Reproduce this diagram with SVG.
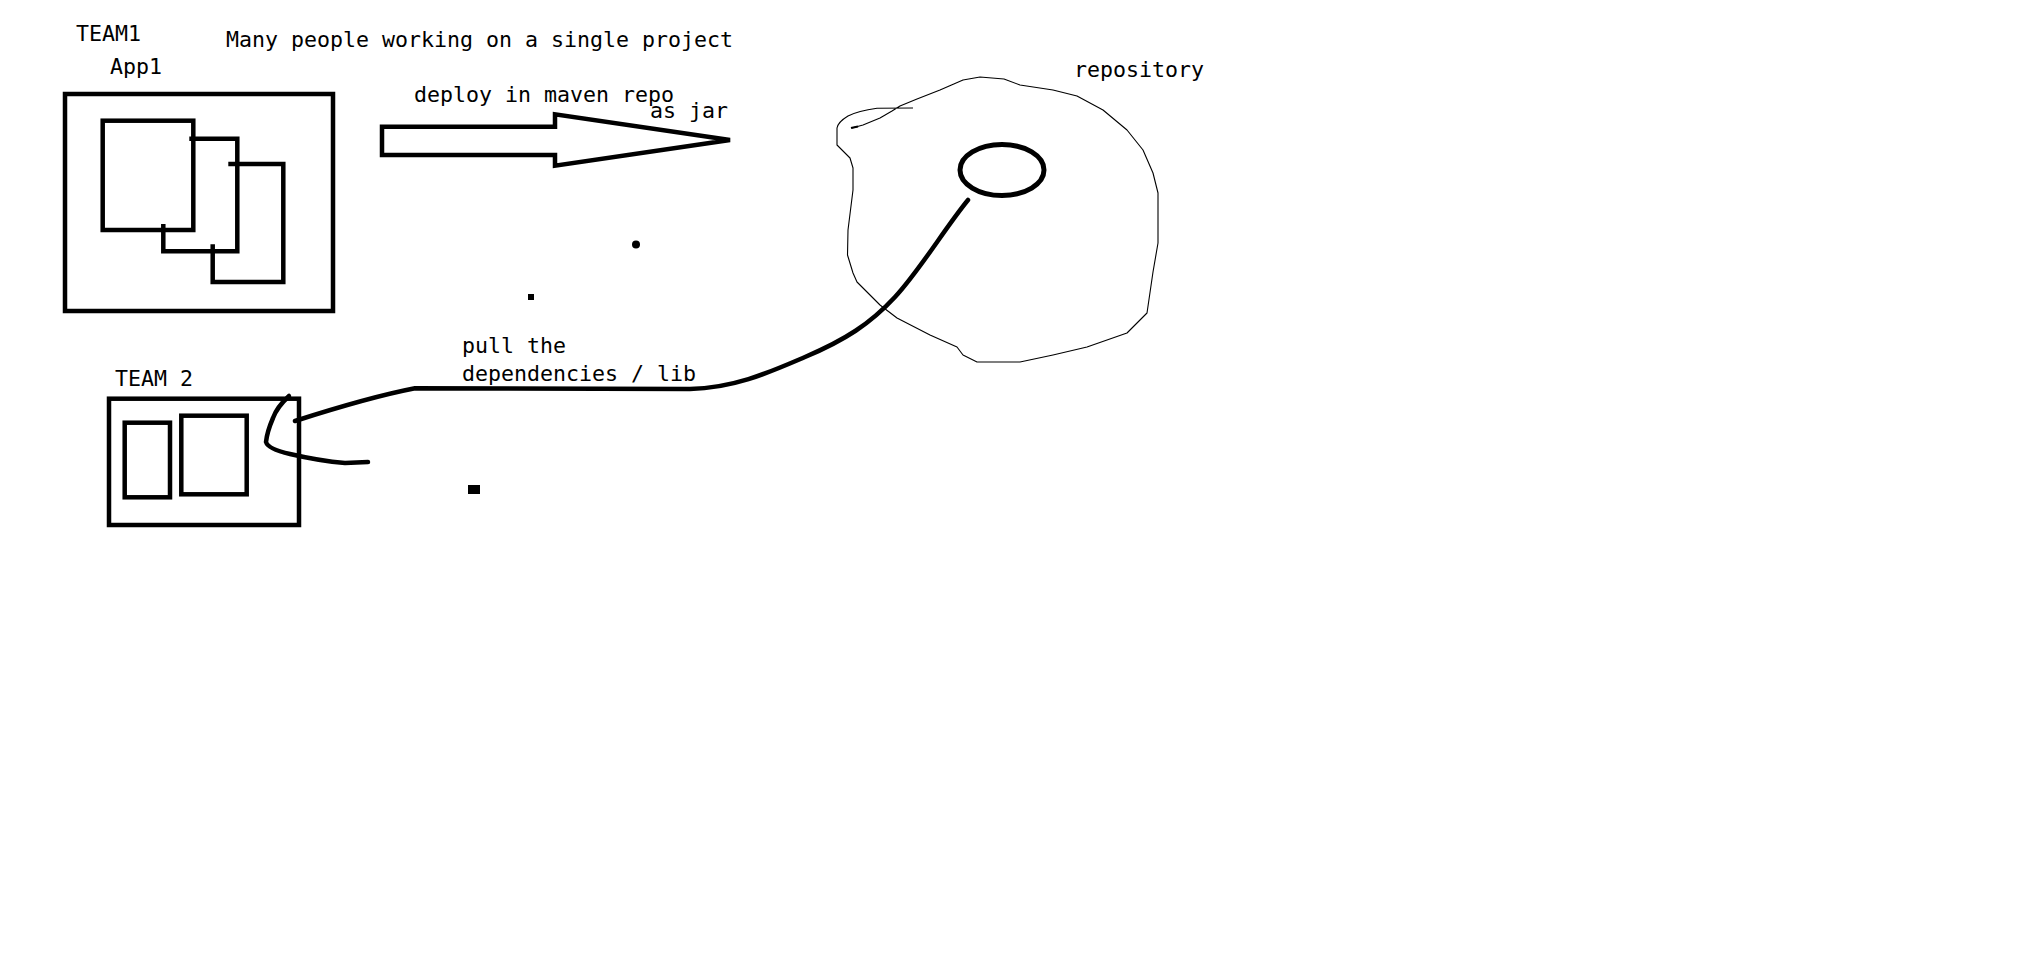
<svg xmlns="http://www.w3.org/2000/svg" width="2022" height="978" viewBox="0 0 2022 978">
<style>
text{font-family:"DejaVu Sans Mono","Liberation Mono",monospace;font-size:21.6px;fill:#000}
.box{fill:none;stroke:#000;stroke-width:4.5;stroke-linejoin:miter}
.thick{fill:none;stroke:#000;stroke-width:4.5;stroke-linecap:round;stroke-linejoin:round}
.thin{fill:none;stroke:#000;stroke-width:1.1;stroke-linejoin:round}
</style>
<rect width="2022" height="978" fill="#fff"/>
<text x="226" y="47.3">Many people working on a single project</text>
<g id="team1">
<text x="76" y="40.7">TEAM1</text>
<text x="110" y="74">App1</text>
<rect class="box" x="65" y="94" width="268" height="217"/>
<rect class="box" x="102.7" y="120.7" width="90.6" height="109.3"/>
<path class="box" d="M189.3,138.7 H237.3 V251.3 H163.3 V224"/>
<path class="box" d="M228.3,164 H283.3 V282 H212.7 V244.3"/>
</g>
<g id="team2">
<text x="115" y="386">TEAM 2</text>
<rect class="box" x="109" y="398.7" width="190" height="126.3"/>
<rect class="box" x="124.7" y="422.7" width="45.3" height="74.6"/>
<rect class="box" x="181.3" y="415.7" width="65.4" height="78.6"/>
</g>
<g id="repository">
<text x="1074" y="77">repository</text>
<path class="thin" d="M913,108 L877,108.3 Q858,111 848,116 Q838,122 837,128 L837,145 L850,158 L853,168 L853,190 L848,230 L847.5,255 L853,273 L857,282 L880,305 L897,318 L930,335 L957,347 L963,355 L977,362 L1020,362 L1053,355 L1087,347 L1127,333 L1147,313 L1153,272 L1158,243 L1158,193 L1153,173 L1143,150 L1127,130 L1103,110 L1077,96 L1053,90 L1020,85 L1004,79 L980,77 L963,80 L940,90 L917,99 L900,106 L892,111 L880,118 L863,125 L852,128"/>
<path d="M851,128 L858,126.5" stroke="#000" stroke-width="2.2" fill="none"/>
<ellipse cx="1002" cy="170" rx="42" ry="25.5" fill="none" stroke="#000" stroke-width="5"/>
</g>
<g id="marks">
<circle cx="636" cy="244.5" r="4"/>
<rect x="528" y="294" width="6" height="6"/>
<rect x="468" y="485" width="12" height="9"/>
</g>
<g id="connectors">
<g id="deploy">
<polygon class="box" points="382,126.7 555,126.7 555,114.3 730,140 555,165.7 555,155 382,155"/>
<text x="414" y="101.7">deploy in maven repo</text>
<text x="650" y="118.3">as jar</text>
</g>
<g id="pull">
<path class="thick" d="M968,200 C945,228 920,270 895,297 C870,324 845,340 805,357 C770,372 735,388 690,389 L415,388.3 Q370,397 295,421"/>
<path class="thick" stroke-width="3.8" d="M289,396 Q277,407 273,418 Q267,432 266,442 Q268,449 290,454 Q320,461 345,463 L368,462"/>
<text x="462" y="353.3">pull the</text>
<text x="462" y="381">dependencies / lib</text>
</g>
</g>
</svg>
